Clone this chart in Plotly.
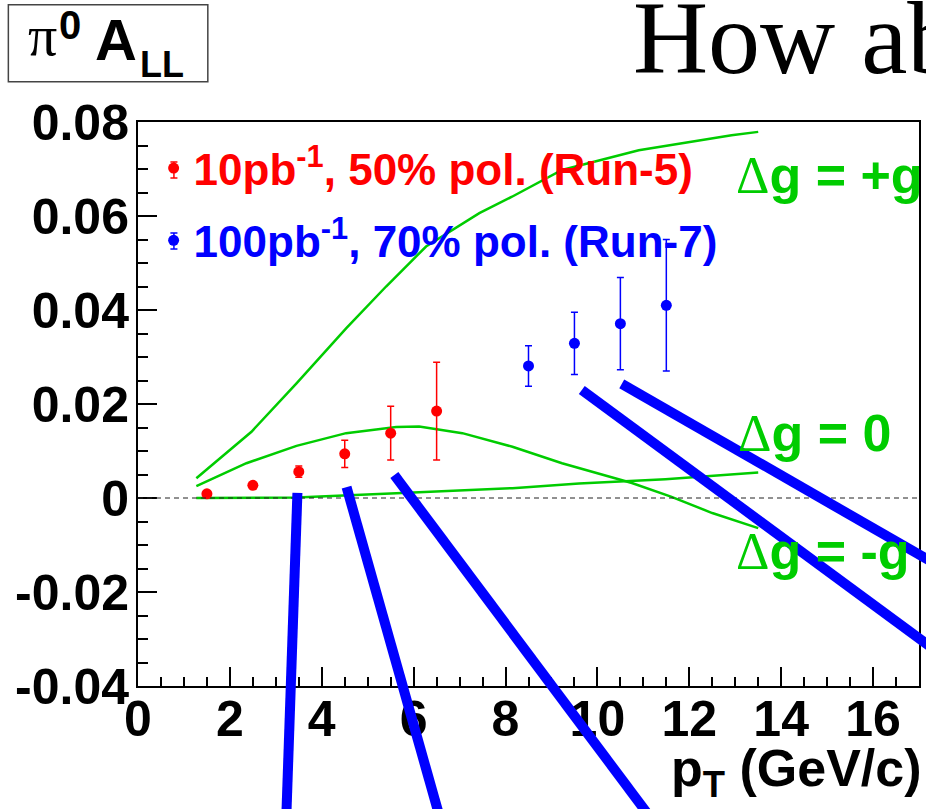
import plotly.graph_objects as go

# ---- data -------------------------------------------------------------
run5_pt = [1.5, 2.5, 3.5, 4.5, 5.5, 6.5]
run5_all = [0.0009, 0.0027, 0.0056, 0.0094, 0.0138, 0.0185]
run5_err = [0.0003, 0.0005, 0.0012, 0.0029, 0.0057, 0.0104]

run7_pt = [8.5, 9.5, 10.5, 11.5]
run7_all = [0.0281, 0.0329, 0.0371, 0.0410]
run7_err = [0.0043, 0.0066, 0.0098, 0.0140]

# theory curves for the three gluon polarisation scenarios
dg_plus_pt = [1.27, 2.47, 3.45, 4.53, 5.40, 6.27, 7.43, 8.14, 9.23, 10.9, 12.92, 13.5]
dg_plus_all = [0.0042, 0.0141, 0.0244, 0.0361, 0.0450, 0.0535, 0.0606, 0.0641,
               0.0698, 0.0740, 0.0772, 0.0779]

dg_zero_pt = [1.27, 2.36, 3.45, 4.53, 5.62, 6.12, 7.06, 8.15, 9.23, 10.75, 11.6, 12.5, 13.5]
dg_zero_all = [0.00255, 0.0074, 0.0111, 0.0138, 0.0151, 0.0152, 0.0138, 0.0109,
               0.0074, 0.0032, 0.0003, -0.0032, -0.0064]

dg_minus_pt = [1.27, 3.45, 5.62, 8.15, 9.6, 11.48, 13.5]
dg_minus_all = [0.0, 0.0001, 0.0010, 0.0021, 0.0031, 0.0040, 0.0054]

# thick pointer strokes, (pT, A_LL) start -> end
pointer_x0 = [3.47, 4.54, 5.58, 9.66, 10.53]
pointer_y0 = [0.0011, 0.0023, 0.0049, 0.0230, 0.0243]
pointer_x1 = [3.23, 6.55, 11.1, 17.85, 17.85]
pointer_y1 = [-0.0673, -0.0673, -0.0673, -0.0360, -0.0168]

y_tickvals = [-0.04, -0.02, 0, 0.02, 0.04, 0.06, 0.08]
y_ticktext = ["-0.04", "-0.02", "0", "0.02", "0.04", "0.06", "0.08"]

X_RANGE = [0, 17]
Y_RANGE = [-0.04, 0.08]

RED = "#ff0000"
BLUE = "#0000ff"
GREEN = "#00cc00"
SANS = "Liberation Sans"
SERIF = "Liberation Serif"

fig = go.Figure()

for xs, ys in [(dg_plus_pt, dg_plus_all), (dg_zero_pt, dg_zero_all),
               (dg_minus_pt, dg_minus_all)]:
    fig.add_trace(go.Scatter(x=xs, y=ys, mode="lines",
                             line=dict(color=GREEN, width=2.5),
                             showlegend=False, hoverinfo="skip"))

fig.add_trace(go.Scatter(
    x=run5_pt, y=run5_all, mode="markers",
    marker=dict(color=RED, size=11),
    error_y=dict(type="data", array=run5_err, color=RED, thickness=1.5, width=3.5),
    name="<span style='color:#ff0000'>10pb<sup>-1</sup>, 50% pol. (Run-5)</span>",
    legendgroup="a"))

fig.add_trace(go.Scatter(
    x=run7_pt, y=run7_all, mode="markers",
    marker=dict(color=BLUE, size=11),
    error_y=dict(type="data", array=run7_err, color=BLUE, thickness=1.5, width=3.5),
    name="<span style='color:#0000ff'>100pb<sup>-1</sup>, 70% pol. (Run-7)</span>",
    legendgroup="b"))


def to_paper_x(v):
    return (v - X_RANGE[0]) / (X_RANGE[1] - X_RANGE[0])


def to_paper_y(v):
    return (v - Y_RANGE[0]) / (Y_RANGE[1] - Y_RANGE[0])


shapes = [
    # dashed zero line
    dict(type="line", xref="x domain", yref="y", x0=0, x1=1, y0=0, y1=0,
         line=dict(color="#222222", width=1, dash="5px,4px")),
    # title box
    dict(type="rect", xref="paper", yref="paper", x0=-0.166, x1=0.0894,
         y0=1.0714, y1=1.208, line=dict(color="#444444", width=1.5),
         fillcolor="white"),
]
for x0, y0, x1, y1 in zip(pointer_x0, pointer_y0, pointer_x1, pointer_y1):
    shapes.append(dict(type="line", xref="paper", yref="paper",
                       x0=to_paper_x(x0), y0=to_paper_y(y0),
                       x1=to_paper_x(x1), y1=to_paper_y(y1),
                       line=dict(color=BLUE, width=10), layer="above"))

# small error-bar glyphs behind the legend markers
for colour, yc in [(RED, 0.9149), (BLUE, 0.7890)]:
    xc, half_h, half_w = 0.046, 0.0142, 0.0045
    glyph = dict(type="line", xref="paper", yref="paper",
                 line=dict(color=colour, width=1.5))
    shapes += [
        dict(glyph, x0=xc, x1=xc, y0=yc - half_h, y1=yc + half_h),
        dict(glyph, x0=xc - half_w, x1=xc + half_w, y0=yc - half_h, y1=yc - half_h),
        dict(glyph, x0=xc - half_w, x1=xc + half_w, y0=yc + half_h, y1=yc + half_h),
    ]

label_font = dict(family=SANS, size=52, color=GREEN, weight="bold")
delta = f"<span style='font-family:{SERIF};font-weight:normal'>Δ</span>"
annotations = [
    dict(text=delta + "g = +g", x=0.7625, y=0.906),
    dict(text=delta + "g = 0", x=0.766, y=0.4486),
    dict(text=delta + "g = -g", x=0.7625, y=0.2394),
]
annotations = [dict(a, xref="paper", yref="paper", xanchor="left", yanchor="middle",
                    showarrow=False, font=label_font) for a in annotations]


def paper_text(text, x, y, font, xanchor="left"):
    return dict(text=text, x=x, y=y, xref="paper", yref="paper", xanchor=xanchor,
                yanchor="middle", showarrow=False, font=font)


bold = lambda s: dict(family=SANS, size=s, color="black", weight="bold")
annotations += [
    paper_text("How ab", 0.631, 1.149, dict(family=SERIF, size=104, color="black")),
    # pi^0 A_LL inside the title box
    paper_text("π", -0.143, 1.1536, dict(family=SERIF, size=58, color="black")),
    paper_text("0", -0.104, 1.172, bold(40)),
    paper_text("A", -0.058, 1.1465, bold(58)),
    paper_text("LL", 0.0, 1.1028, bold(36)),
    # x-axis title
    paper_text("p<sub>T</sub> (GeV/c)", 1.007, -0.1525, bold(52), xanchor="right"),
]

tick_font = dict(family=SANS, size=50, color="black", weight="bold")
fig.update_layout(
    width=926, height=809,
    margin=dict(l=138, r=5, t=122, b=123),
    paper_bgcolor="white", plot_bgcolor="white",
    shapes=shapes, annotations=annotations,
    showlegend=True,
    legend=dict(x=0.02, y=0.9805, xanchor="left", yanchor="top",
                font=dict(family=SANS, size=44, weight="bold"),
                bgcolor="rgba(0,0,0,0)", tracegroupgap=12, traceorder="grouped"),
    xaxis=dict(range=X_RANGE, dtick=2, tick0=0, ticks="inside", ticklen=19,
               tickwidth=1.5, tickcolor="black", showline=True, linecolor="black",
               linewidth=2, mirror=True, showgrid=False, zeroline=False,
               tickfont=tick_font, ticklabelstandoff=-12,
               minor=dict(dtick=0.5, ticks="inside", ticklen=9, tickwidth=1.5,
                          tickcolor="black", showgrid=False)),
    yaxis=dict(range=Y_RANGE, tickvals=y_tickvals, ticktext=y_ticktext,
               ticks="inside", ticklen=19, tickwidth=1.5, tickcolor="black",
               showline=True, linecolor="black", linewidth=2, mirror=True,
               showgrid=False, zeroline=False, tickfont=tick_font,
               ticklabelstandoff=-3,
               minor=dict(dtick=0.005, tick0=0, ticks="inside", ticklen=10,
                          tickwidth=1.5, tickcolor="black", showgrid=False)),
)

fig.write_html("out.html")
